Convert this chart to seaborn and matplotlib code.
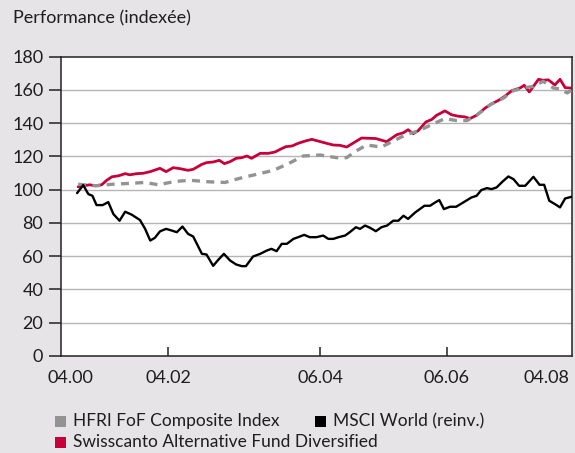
import numpy as np
import pandas as pd
import matplotlib
matplotlib.use("Agg")
import matplotlib.pyplot as plt
import seaborn as sns
from matplotlib.patches import Rectangle

# ---------------- data (x = time index, y = indexed performance) ----------------
tick_pos = [2.0, 21.0, 50.7, 75.5, 95.0]
tick_labels = ["04.00", "04.02", "06.04", "06.06", "04.08"]
y_ticks = [0, 20, 40, 60, 80, 100, 120, 140, 160, 180]

msci_x = [3.2, 4.4, 5.4, 6.2, 7.0, 8.2, 9.3, 10.3, 11.5, 12.6, 13.9, 15.5, 16.5, 17.5,
          18.4, 19.4, 20.6, 21.7, 22.7, 23.8, 24.9, 25.9, 27.6, 28.5, 29.8, 30.8, 31.9,
          33.1, 34.3, 35.4, 36.2, 37.6, 39.0, 40.3, 41.2, 42.2, 43.2, 44.2, 45.5, 46.4,
          47.6, 48.7, 50.0, 51.3, 52.3, 53.3, 54.3, 55.6, 56.5, 57.7, 58.5, 59.5, 60.5,
          61.6, 62.7, 63.8, 65.0, 66.0, 67.0, 67.9, 69.3, 70.2, 71.1, 72.2, 73.2, 74.0,
          74.9, 76.1, 77.3, 78.7, 80.3, 81.3, 82.2, 83.3, 84.2, 85.2, 86.4, 87.5, 88.5,
          89.6, 90.8, 92.4, 93.6, 94.5, 95.5, 96.6, 97.6, 98.6, 99.9]
msci_y = [97.9, 102.7, 97.3, 96.3, 90.7, 90.7, 92.5, 85.3, 81.3, 86.7, 84.9, 81.7, 76.4, 69.4,
          71.0, 74.9, 76.4, 75.4, 74.4, 77.8, 73.4, 71.8, 61.4, 61.0, 54.2, 57.8, 61.4,
          57.4, 55.0, 54.0, 54.0, 59.8, 61.4, 63.4, 64.4, 63.0, 67.4, 67.4, 70.4, 71.4,
          72.8, 71.4, 71.4, 72.4, 70.4, 70.4, 71.4, 72.4, 74.4, 77.4, 76.4, 78.4, 77.0,
          75.0, 77.4, 78.4, 81.3, 81.3, 84.3, 82.4, 86.3, 88.3, 90.3, 90.3, 92.3, 93.7,
          88.3, 89.7, 89.7, 92.3, 95.3, 96.3, 99.7, 100.9, 100.3, 101.3, 104.9, 107.9, 106.3,
          102.3, 102.3, 107.7, 102.9, 102.9, 93.3, 91.3, 89.3, 94.7, 95.7]

swiss_x = [3.4, 4.4, 5.7, 6.7, 8.0, 9.0, 10.0, 11.3, 12.6, 13.5, 14.9, 16.1, 17.5, 19.4,
           20.6, 22.0, 23.3, 24.9, 25.9, 27.6, 28.5, 29.8, 31.0, 32.0, 33.1, 34.3, 35.4,
           36.4, 37.3, 39.0, 40.6, 41.9, 42.9, 44.0, 45.2, 46.4, 47.8, 49.1, 52.0, 53.3,
           54.6, 55.9, 58.8, 61.6, 63.7, 65.7, 67.0, 67.9, 68.9, 69.9, 71.4, 72.5, 73.5,
           75.1, 76.4, 77.7, 79.0, 80.0, 81.3, 83.0, 84.2, 85.5, 86.8, 88.2, 89.8, 90.6,
           91.6, 93.4, 94.3, 95.3, 96.6, 97.6, 98.6, 99.9]
swiss_y = [101.7, 102.3, 102.9, 102.3, 102.9, 105.6, 107.7, 108.3, 109.6, 108.9, 109.6, 109.8,
           110.8, 112.8, 110.8, 113.2, 112.6, 111.6, 112.2, 115.2, 116.2, 116.6, 117.6, 115.6,
           116.8, 118.8, 119.2, 120.2, 118.8, 121.8, 121.8, 122.6, 124.2, 125.8, 126.2, 127.8,
           129.2, 130.2, 127.8, 126.8, 126.6, 125.6, 131.0, 130.7, 128.8, 133.0, 134.2, 136.0,
           133.6, 135.5, 140.7, 142.1, 144.7, 147.3, 145.0, 144.1, 143.7, 142.7, 144.7, 149.1,
           151.5, 153.5, 156.1, 159.5, 161.1, 162.7, 158.7, 166.3, 165.7, 166.0, 162.9, 166.3,
           161.3, 161.0]

hfri_x = [3.4, 7.0, 10.0, 13.2, 16.5, 19.1, 22.3, 25.3, 28.9, 32.1, 35.0, 38.3, 41.6, 44.5,
          47.4, 50.7, 53.9, 55.9, 57.5, 59.8, 62.7, 65.0, 67.6, 69.9, 72.8, 75.1, 77.4, 79.4,
          81.3, 84.0, 86.6, 88.5, 90.5, 92.4, 94.3, 96.3, 97.6, 99.0, 100.0]
hfri_y = [103.2, 102.3, 103.2, 103.7, 104.3, 102.9, 104.9, 105.6, 104.7, 104.3, 106.8, 109.2,
          111.6, 115.6, 120.2, 120.8, 119.2, 119.2, 122.8, 126.8, 125.6, 129.2, 133.2, 135.2,
          139.5, 142.7, 141.5, 141.5, 144.7, 151.1, 155.1, 159.5, 161.1, 162.1, 165.1, 161.1,
          160.5, 158.1, 160.0]

series_names = ["HFRI FoF Composite Index", "MSCI World (reinv.)",
                "Swisscanto Alternative Fund Diversified"]

# ---------------- style ----------------
BG = "#e6e4e6"
RED = "#c8003a"
GRAY = "#939393"
TXT = "#1e1e1e"

sns.set_theme(style="white")
plt.rcParams['font.family'] = ['Lato', 'DejaVu Sans']
plt.rcParams['text.color'] = TXT

W, H = 575, 453
fig = plt.figure(figsize=(W / 100, H / 100), dpi=100, facecolor=BG)
ax = fig.add_axes([60.7 / W, 1 - 356 / H, (572.3 - 60.7) / W, (356 - 56.5) / H])
ax.set_facecolor("white")

df_s = pd.DataFrame({"x": swiss_x, "y": swiss_y})
df_h = pd.DataFrame({"x": hfri_x, "y": hfri_y})
df_m = pd.DataFrame({"x": msci_x, "y": msci_y})

sns.lineplot(data=df_s, x="x", y="y", ax=ax, color=RED, lw=2.0,
             estimator=None, sort=False, zorder=3)
sns.lineplot(data=df_h, x="x", y="y", ax=ax, color=GRAY, lw=2.4,
             estimator=None, sort=False, zorder=4)
ax.lines[-1].set_dashes([2.4, 1.9])
sns.lineplot(data=df_m, x="x", y="y", ax=ax, color="black", lw=1.7,
             estimator=None, sort=False, zorder=5)

ax.set_xlim(0, 100)
ax.set_ylim(0, 180)
ax.set_yticks(y_ticks)
ax.set_yticklabels([str(v) for v in y_ticks])
ax.set_xticks(tick_pos)
ax.set_xticklabels(tick_labels)
ax.set_xlabel("")
ax.set_ylabel("")

for v in y_ticks[1:-1]:
    ax.axhline(v, color="#b5b5b5", lw=1.0, zorder=1)

for s in ax.spines.values():
    s.set_color("#222222")
    s.set_linewidth(1.1)
    s.set_visible(True)

ax.tick_params(axis="y", direction="out", length=8.5, width=1.1, color="#222222",
               pad=4, labelsize=13, labelcolor=TXT, left=True)
ax.tick_params(axis="x", direction="in", length=6.5, width=1.1, color="#222222",
               pad=10, labelsize=13, labelcolor=TXT, bottom=True)
xt = ax.xaxis.get_major_ticks()
for i in (0, len(xt) - 1):
    xt[i].tick1line.set_visible(False)

fig.text(13 / W, 1 - 18 / H, "Performance (indexée)", fontsize=13, ha="left",
         va="center", color=TXT)

# legend: square markers + labels
leg_items = [(55, 421, GRAY, series_names[0]),
             (315, 421, "black", series_names[1]),
             (55, 442, RED, series_names[2])]
for x0, yc, col, lab in leg_items:
    fig.patches.append(Rectangle((x0 / W, 1 - (yc + 5.5) / H), 11 / W, 11 / H,
                                 transform=fig.transFigure, facecolor=col,
                                 edgecolor="none"))
    fig.text((x0 + 18) / W, 1 - yc / H, lab, fontsize=12.5, ha="left",
             va="center", color=TXT)

fig.savefig("out.png", dpi=100, facecolor=BG)
